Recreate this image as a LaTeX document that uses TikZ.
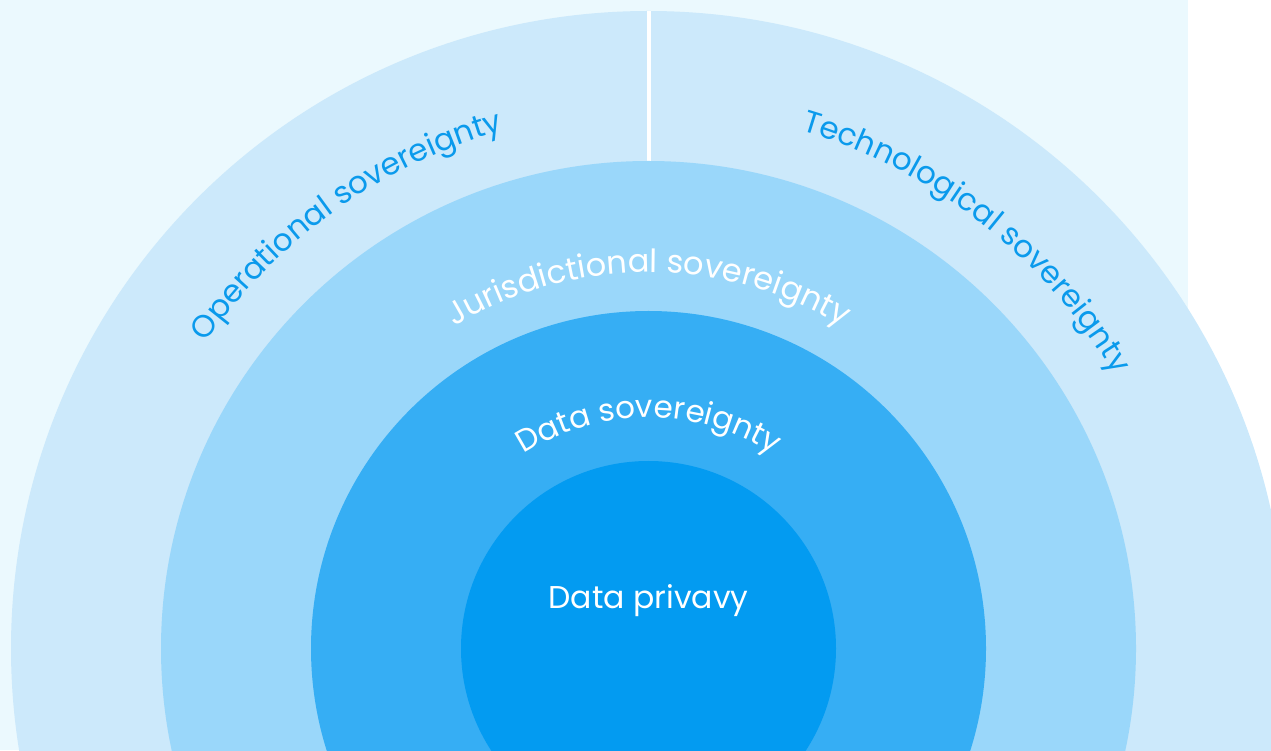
\documentclass[tikz,border=0pt]{standalone}
\usepackage{fontspec}
\setmainfont{Poppins}
\usetikzlibrary{decorations.text}
\definecolor{bgc}{HTML}{EBF9FE}
\definecolor{ringD}{HTML}{CCE9FB}
\definecolor{ringC}{HTML}{9AD7FA}
\definecolor{ringB}{HTML}{36AEF4}
\definecolor{ringA}{HTML}{039BF1}
\definecolor{optext}{HTML}{0A9AEC}
\tikzset{
  ringtext/.style={decorate, decoration={text along path, text align=center, text={#1}}},
}
\begin{document}
\begin{tikzpicture}[x=1pt,y=1pt]
\useasboundingbox (0,0) rectangle (1271,750);
\clip (0,0) rectangle (1271,750);
\fill[bgc] (0,0) rectangle (1188,750);
\coordinate (c) at (648.5,101.5);
\fill[ringD] (c) circle[radius=637.5];
\coordinate (lt) at (648.5,739);
\coordinate (lb) at (648.5,585);
\draw[white, line width=4] (lt) -- (lb);
\fill[ringC] (c) circle[radius=487.5];
\fill[ringB] (c) circle[radius=337.5];
\fill[ringA] (c) circle[radius=187.5];
\node[text=white, font=\fontsize{31.5}{36}\selectfont] (dp) at (648.5,149) {Data privavy};
\path[ringtext={|\color{optext}\fontsize{31}{36}\selectfont|Operational sovereignty}]
  (c) ++(157:538) arc[start angle=157, end angle=94, radius=538];
\path[ringtext={|\color{optext}\fontsize{31}{36}\selectfont|Technological sovereignty}]
  (c) ++(84:540) arc[start angle=84, end angle=20, radius=540];
\path[ringtext={|\color{white}\fontsize{32}{36}\selectfont|Jurisdictional sovereignty}]
  (c) ++(135:376) arc[start angle=135, end angle=45, radius=376];
\path[ringtext={|\color{white}\fontsize{31}{36}\selectfont|Data sovereignty}]
  (c) ++(145:231) arc[start angle=145, end angle=35, radius=231];
\end{tikzpicture}
\end{document}
